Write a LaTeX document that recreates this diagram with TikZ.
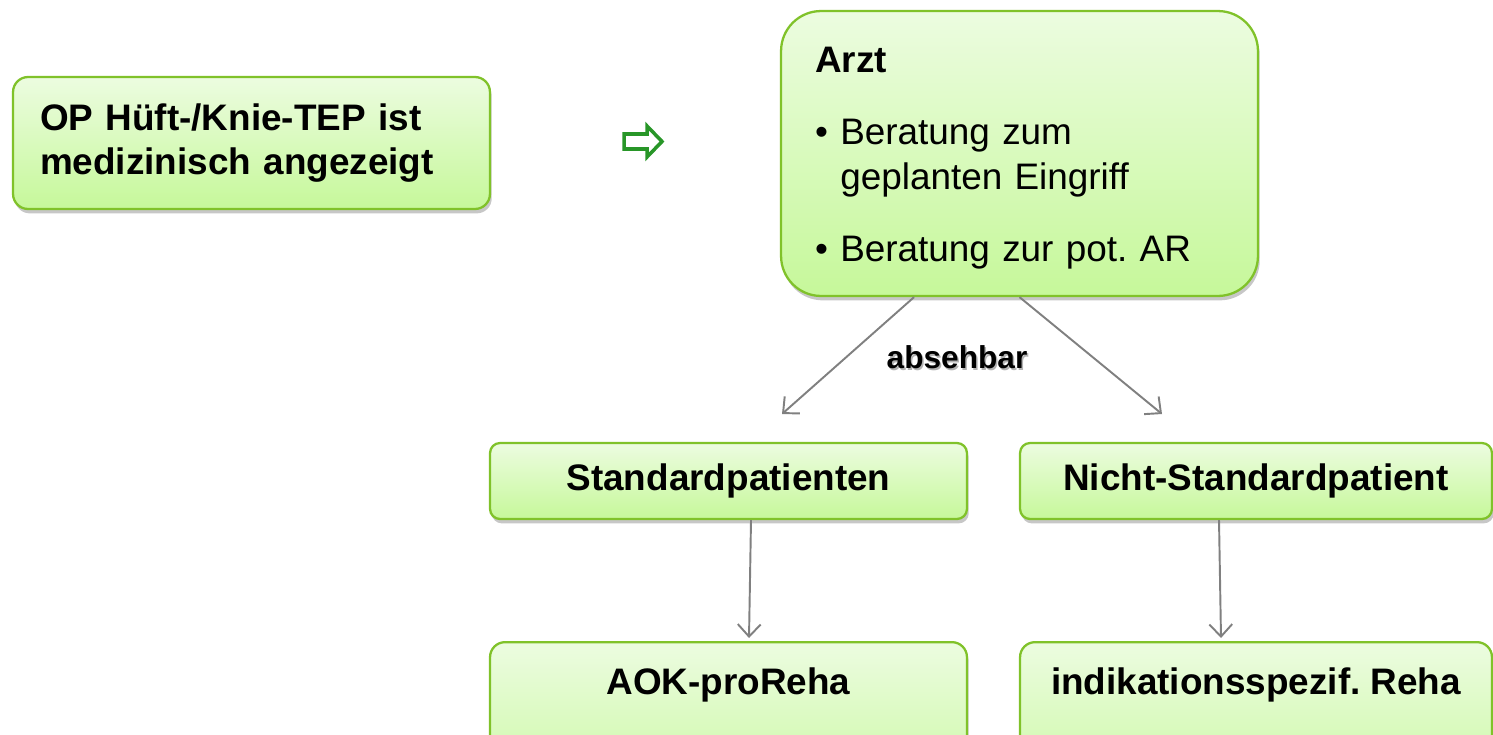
\documentclass[tikz,border=0pt]{standalone}
\usepackage{fontspec}
\setmainfont{Liberation Sans}
\usetikzlibrary{arrows.meta,calc,shadows}
\definecolor{boxborder}{RGB}{128,194,42}
\definecolor{boxtop}{RGB}{236,252,224}
\definecolor{boxbottom}{RGB}{198,248,154}
\definecolor{linkgray}{RGB}{128,128,128}
\definecolor{arrowgreen}{RGB}{40,150,40}
\frenchspacing
\begin{document}
\begin{tikzpicture}[x=0.02cm, y=-0.02cm,
    greenbox/.style={draw=boxborder, line width=1.3pt, top color=boxtop, bottom color=boxbottom,
        rounded corners=#1, font=\fontsize{21pt}{25.5pt}\selectfont,
        drop shadow={shadow xshift=1pt, shadow yshift=-2.5pt, fill=black, opacity=.22}},
    greenbox/.default=0.3cm,
    link/.style={draw=linkgray, line width=1.1pt, -{Straight Barb[length=7pt,width=13pt]}}]
    % Page area
    \clip (0,0) rectangle (1493,734);

    % Indication box and hint arrow
    \node[greenbox, text width=8.46cm, inner xsep=0.54cm, minimum height=2.64cm, align=left]
        (op) at (251.5,143) {\bfseries OP Hüft-/Knie-TEP ist\\ medizinisch angezeigt};
    \draw[draw=arrowgreen, line width=2pt, fill=white, line join=miter]
        (624,134) -- (647,134) -- (647,126) -- (662,141.5) -- (647,157) -- (647,149) -- (624,149) -- cycle;

    % Doctor box
    \node[greenbox=0.8cm, text width=8.18cm, inner xsep=0.68cm, minimum height=5.7cm, align=left, text height=20pt]
        (arzt) at (1019.5,153.5) {{\bfseries Arzt}\\[15.5pt]
        \textbullet~Beratung zum\\ \hphantom{\textbullet~}geplanten Eingriff\\[15.5pt]
        \textbullet~Beratung zur pot. AR};

    % Patient groups
    \node[greenbox=0.2cm, minimum width=9.54cm, minimum height=1.52cm] (std) at (728.5,481) {\bfseries Standardpatienten};
    \node[greenbox=0.2cm, minimum width=9.44cm, minimum height=1.52cm] (nstd) at (1256,481) {\bfseries Nicht-Standardpatient};

    % Rehab boxes (cut by the page edge)
    \node[greenbox, minimum width=9.54cm, anchor=north, inner ysep=0.5cm, text height=15.3pt, text depth=2cm]
        (aok) at (728.5,641) {\bfseries AOK-proReha};
    \node[greenbox, minimum width=9.44cm, anchor=north, inner ysep=0.5cm, text height=15.3pt, text depth=2cm]
        (indik) at (1256,641) {\bfseries indikationsspezif. Reha};

    % Connectors
    \coordinate (endl) at (782,414);
    \coordinate (endr) at (1162,414);
    \draw[link] ($(arzt.south west)!0.28!(arzt.south east)$) -- (endl);
    \draw[link] (arzt.south) -- (endr);
    \draw[link] ($(std.south)+(22.5,0)$) -- ($(aok.north)+(20.5,-3)$);
    \draw[link] ($(nstd.south)+(-37,0)$) -- ($(indik.north)+(-35,-3)$);

    % Label with its shadow
    \node[text=black, opacity=.3, font=\bfseries\fontsize{18pt}{20pt}\selectfont] (abshadow) at (958.5,359) {absehbar};
    \node[font=\bfseries\fontsize{18pt}{20pt}\selectfont] (absehbar) at (957,357) {absehbar};
\end{tikzpicture}
\end{document}
